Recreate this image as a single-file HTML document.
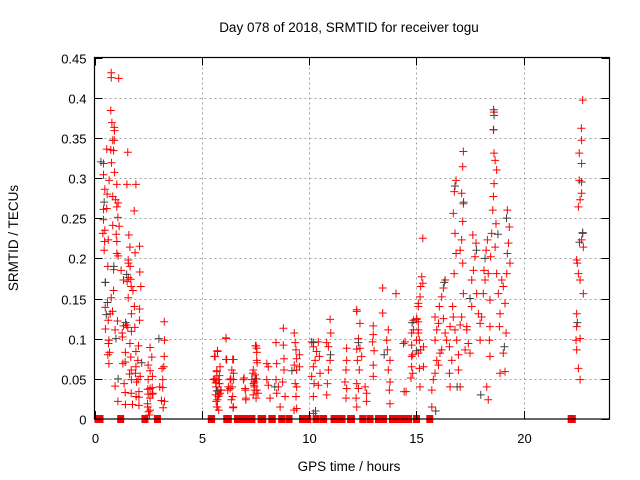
<!DOCTYPE html>
<html><head><meta charset="utf-8"><style>
html,body{margin:0;padding:0;background:#fff;}
svg{display:block;font-family:"Liberation Sans",sans-serif;}
</style></head><body>
<svg id="chart" width="640" height="480" viewBox="0 0 640 480" xmlns="http://www.w3.org/2000/svg">
<rect x="0" y="0" width="640" height="480" fill="#fff"/>
<text x="349" y="32" font-size="13.5" text-anchor="middle" fill="#000">Day 078 of 2018, SRMTID for receiver togu</text>
<text x="349" y="471" font-size="13.5" text-anchor="middle" fill="#000">GPS time / hours</text>
<text x="0" y="0" font-size="13.5" text-anchor="middle" fill="#000" transform="translate(18,238) rotate(-90)">SRMTID / TECUs</text>
<g id="grid"></g><g id="zeros"></g><g id="red"></g><g id="gray"></g><g id="axes"></g>
</svg>
<script>
const xTicks=[0,5,10,15,20];
const yTicks=[0,0.05,0.1,0.15,0.2,0.25,0.3,0.35,0.4,0.45];
const yTickLabels=["0","0.05","0.1","0.15","0.2","0.25","0.3","0.35","0.4","0.45"];
const zeroStart=[0.0,1.12,2.2,2.78,5.28,6.0,6.5,7.6,8.1,8.65,8.93,9.53,10.2,10.5,11.0,11.77,12.4,12.7,13.07,13.72,14.84,15.5,22.05];
const zeroEnd=[0.42,1.32,2.5,3.09,5.62,6.4,7.5,8.0,8.45,8.8,9.2,10.1,10.46,10.84,11.7,12.14,12.6,12.98,13.63,14.8,15.17,15.75,22.43];
const redHours=[
0.78,0.78,1.13,0.76,0.81,0.92,0.93,0.85,0.92,0.57,0.76,0.89,1.55,0.42,0.79,0.93,0.42,0.68,1.04,1.51,1.93,0.48,0.59,0.85,0.98,0.57,0.42,1.85,1.10,1.04,0.42,1.09,0.85,1.15,0.48,0.39,1.01,0.64,1.04,0.47,0.45,1.60,1.04,1.10,1.65,2.10,1.89,1.57,1.58,1.66,0.62,0.89,1.24,1.58,2.11,0.51,1.69,1.52,1.71,1.35,1.79,0.89,2.16,0.78,1.57,0.50,0.84,2.10,1.86,0.73,1.72,2.10,0.64,1.07,1.35,1.49,1.55,1.88,3.25,0.51,0.96,1.29,1.72,3.26,0.67,0.65,1.30,1.65,2.05,0.70,0.62,2.59,3.25,1.44,1.93,2.67,1.69,1.43,2.02,0.67,1.32,3.23,3.15,1.93,1.71,2.50,2.59,1.91,1.63,2.13,1.72,2.03,2.70,0.96,1.38,1.96,2.50,3.18,1.43,2.07,2.59,2.69,3.04,3.18,1.71,2.48,1.94,2.07,2.50,2.69,2.59,3.12,3.26,1.09,1.44,1.77,2.07,2.47,2.48,2.59,3.20,2.72,2.52,2.56,
5.59,5.73,6.13,6.48,6.16,5.70,5.54,5.82,5.90,5.64,5.73,5.70,5.79,6.32,6.48,6.41,6.21,6.38,6.46,6.94,7.03,7.05,7.50,7.56,7.58,7.38,7.45,7.47,7.62,7.53,7.41,5.60,5.65,5.75,5.80,5.70,6.35,7.45,7.55,
5.62,5.73,5.62,5.77,5.85,5.70,5.82,5.67,5.88,5.77,5.67,5.73,5.85,5.82,6.13,6.13,6.44,6.40,6.47,6.32,6.44,6.47,6.24,6.97,7.02,7.06,7.53,7.56,7.40,7.48,7.56,7.33,7.44,7.40,7.56,8.03,8.10,8.03,8.10,8.18,8.46,8.49,8.46,8.57,8.65,8.49,8.80,8.80,8.83,8.83,8.77,8.88,9.31,9.35,9.39,9.42,9.31,9.42,9.35,9.42,9.39,9.42,9.30,9.55,9.55,10.12,10.20,10.28,10.20,10.12,10.23,10.20,10.20,10.43,10.35,10.48,10.51,10.43,10.82,10.90,10.98,10.98,11.01,10.90,10.85,10.82,11.75,11.75,11.72,11.67,11.75,11.72,12.22,12.22,12.37,12.30,12.22,12.37,12.25,12.34,12.22,12.30,12.19,12.22,12.45,12.61,12.68,12.68,13.43,13.43,12.99,12.99,12.96,13.03,12.99,12.99,13.69,13.62,13.65,13.77,13.69,13.77,13.74,13.77,14.05,14.47,14.86,14.78,14.83,14.78,14.75,14.52,15.09,15.01,15.09,15.01,15.09,
14.40,14.43,14.78,14.83,14.78,14.86,15.02,15.09,15.17,15.20,15.25,15.30,15.09,15.09,15.14,15.20,15.14,15.33,15.30,15.17,15.33,
15.72,15.79,15.72,15.87,15.95,15.87,15.95,15.87,16.03,16.07,16.10,16.03,16.18,16.18,16.26,16.26,16.34,16.34,16.41,16.54,16.57,16.54,16.65,16.57,16.72,16.69,16.76,16.80,16.88,16.96,16.96,17.04,16.85,16.80,16.72,16.77,16.85,17.04,17.11,17.16,17.19,17.11,17.16,17.19,17.16,17.19,17.11,17.04,17.27,17.35,17.42,17.50,17.35,17.58,17.58,17.66,17.63,17.73,17.78,17.81,17.89,17.97,18.04,17.97,18.12,18.15,18.20,18.25,18.31,18.35,18.43,18.46,18.51,18.40,18.43,18.28,18.35,18.56,18.59,18.62,18.62,18.59,18.62,18.67,18.74,18.71,18.67,18.74,18.82,18.90,18.87,18.98,19.05,19.13,19.18,19.21,19.24,19.29,19.33,19.24,19.36,18.90,19.13,19.05,18.43,
22.47,22.50,22.55,22.63,22.70,22.75,22.78,22.55,22.63,22.70,22.59,22.70,22.59,22.70,22.69,22.75,22.44,22.47,22.55,22.63,22.63,22.47,22.47,22.78];
const redValues=[
.431,.425,.424,.384,.369,.363,.359,.347,.347,.336,.335,.334,.332,.318,.319,.307,.304,.297,.292,.292,.292,.286,.280,.277,.273,.262,.261,.259,.269,.264,.248,.251,.241,.240,.235,.231,.230,.223,.221,.221,.210,.229,.206,.203,.214,.215,.207,.198,.194,.190,.190,.186,.185,.176,.183,.170,.174,.171,.165,.173,.160,.160,.165,.151,.151,.139,.134,.137,.140,.131,.131,.123,.123,.122,.116,.117,.114,.114,.121,.112,.111,.107,.109,.098,.098,.094,.102,.094,.091,.083,.080,.089,.078,.083,.084,.077,.077,.071,.073,.069,.069,.065,.063,.065,.061,.067,.060,.057,.056,.053,.049,.049,.053,.041,.044,.046,.049,.049,.033,.034,.038,.039,.040,.039,.032,.037,.028,.027,.031,.031,.026,.023,.022,.022,.018,.018,.017,.019,.015,.011,.014,.032,.009,.005,
.078,.084,.101,.074,.074,.049,.049,.044,.036,.030,.024,.015,.011,.049,.057,.040,.036,.024,.014,.049,.036,.024,.091,.083,.070,.057,.046,.036,.032,.026,.044,.050,.045,.035,.030,.060,.050,.040,.050,
.078,.085,.049,.049,.065,.059,.054,.040,.036,.028,.022,.015,.032,.044,.100,.074,.074,.061,.049,.038,.028,.015,.040,.051,.038,.026,.091,.088,.061,.055,.073,.049,.042,.030,.036,.069,.065,.049,.042,.026,.095,.069,.049,.040,.015,.032,.113,.092,.075,.061,.046,.028,.107,.095,.086,.075,.067,.061,.044,.040,.028,.013,.011,.080,.065,.096,.090,.073,.065,.053,.044,.028,.007,.096,.084,.078,.057,.042,.095,.090,.073,.124,.107,.061,.044,.030,.088,.073,.061,.046,.038,.026,.136,.134,.119,.100,.087,.088,.073,.061,.044,.038,.026,.015,.078,.040,.032,.022,.163,.132,.116,.105,.096,.085,.067,.053,.111,.098,.086,.073,.061,.046,.036,.019,.156,.096,.111,.092,.080,.065,.051,.034,.144,.124,.111,.098,.082,
.094,.034,.078,.057,.107,.123,.125,.140,.152,.165,.177,.169,.121,.107,.098,.086,.063,.065,.225,.040,.090,
.015,.049,.036,.057,.073,.098,.111,.127,.119,.140,.082,.067,.086,.152,.163,.125,.173,.107,.098,.090,.040,.057,.073,.115,.127,.140,.181,.111,.098,.080,.061,.040,.206,.231,.256,.283,.297,.210,.223,.246,.268,.281,.314,.333,.194,.156,.127,.117,.086,.111,.094,.082,.115,.140,.173,.185,.229,.202,.219,.156,.131,.119,.127,.098,.156,.185,.173,.210,.223,.181,.148,.202,.231,.098,.078,.040,.024,.260,.277,.293,.331,.360,.382,.322,.310,.243,.214,.181,.156,.131,.115,.173,.165,.144,.107,.181,.206,.219,.239,.260,.194,.057,.059,.082,.115,
.198,.194,.181,.173,.223,.231,.214,.264,.273,.281,.297,.318,.331,.347,.362,.397,.098,.086,.063,.049,.100,.115,.131,.156];
const grayHours=[0.3,0.45,0.5,0.55,0.6,0.9,1.0,1.5,1.45,1.1,2.2,3.0,5.7,7.5,8.4,9.2,10.2,10.3,11.0,12.3,13.5,14.8,15.0,15.9,16.3,16.8,17.2,17.5,17.8,18.2,18.6,18.62,18.6,18.8,19.2,19.1,22.7,22.75,22.6,22.5,18.0,16.9];
const grayValues=[.32,.27,.17,.13,.145,.19,.10,.18,.12,.05,.07,.10,.035,.05,.04,.06,.095,.01,.08,.095,.08,.12,.085,.01,.17,.29,.27,.15,.21,.20,.385,.378,.36,.23,.25,.09,.295,.232,.22,.12,.03,.04];

const NS="http://www.w3.org/2000/svg";
const L=94.5,R=609.5,T=57.5,B=419;
const xMin=0,xMax=24,yMin=0,yMax=0.45;
function xs(h){return L+(h-xMin)/(xMax-xMin)*(R-L);}
function ys(v){return B-(v-yMin)/(yMax-yMin)*(B-T);}
function mk(tag,attrs,parent){const e=document.createElementNS(NS,tag);for(const k in attrs)e.setAttribute(k,attrs[k]);parent.appendChild(e);return e;}
const grid=document.getElementById('grid'),axes=document.getElementById('axes');
yTicks.forEach((t,i)=>{
  const y=Math.round(ys(t))+0.5;
  if(i>0&&i<yTicks.length-1){const g=mk('line',{x1:L,x2:R,y1:y,y2:y,stroke:'#a0a0a0','stroke-dasharray':'2,3','stroke-width':1},grid);
  
  }
  const t1=mk('path',{d:`M${L},${y}h8M${R},${y}h-8`,stroke:'#000','stroke-width':1},axes);
  
  
  const lb=mk('text',{x:L-8,y:y+5,'font-size':13,'text-anchor':'end',fill:'#000'},axes);
  lb.textContent=yTickLabels[i];
  
  
});
xTicks.forEach(t=>{
  const x=Math.round(xs(t))+0.5;
  if(t>xMin){const g=mk('line',{x1:x,x2:x,y1:T,y2:B,stroke:'#a0a0a0','stroke-dasharray':'2,3','stroke-width':1},grid);
  
  }
  const t1=mk('path',{d:`M${x},${B}v-8M${x},${T}v8`,stroke:'#000','stroke-width':1},axes);
  
  
  const lb=mk('text',{x:x,y:B+24,'font-size':13,'text-anchor':'middle',fill:'#000'},axes);
  lb.textContent=String(t);
  
  
});
const frame=mk('rect',{x:L,y:T,width:R-L,height:B-T,fill:'none',stroke:'#000','stroke-width':1.2},axes);


const zg=document.getElementById('zeros');
zeroStart.forEach((s,i)=>{
  let x1=xs(s),x2=xs(zeroEnd[i]);
  if(x2-x1<7){const c=(x1+x2)/2;x1=c-3.5;x2=c+3.5;}
  const r=mk('rect',{x:x1,y:ys(0)-4,width:x2-x1,height:8,fill:'#ff0000'},zg);
  
  
});
function plus(g,h,v,col,name){
  const x=xs(h),y=ys(v);
  const p=mk('path',{d:`M${x-4},${y}h8M${x},${y-4}v8`,stroke:col,'stroke-width':1},g);
  
  
}
const rg=document.getElementById('red'),gg=document.getElementById('gray');
redHours.forEach((h,i)=>plus(rg,h,redValues[i],'#ff0000','srmtid-point'));
grayHours.forEach((h,i)=>plus(gg,h,grayValues[i],'#404040','srmtid-point-secondary'));
</script>
</body></html>
